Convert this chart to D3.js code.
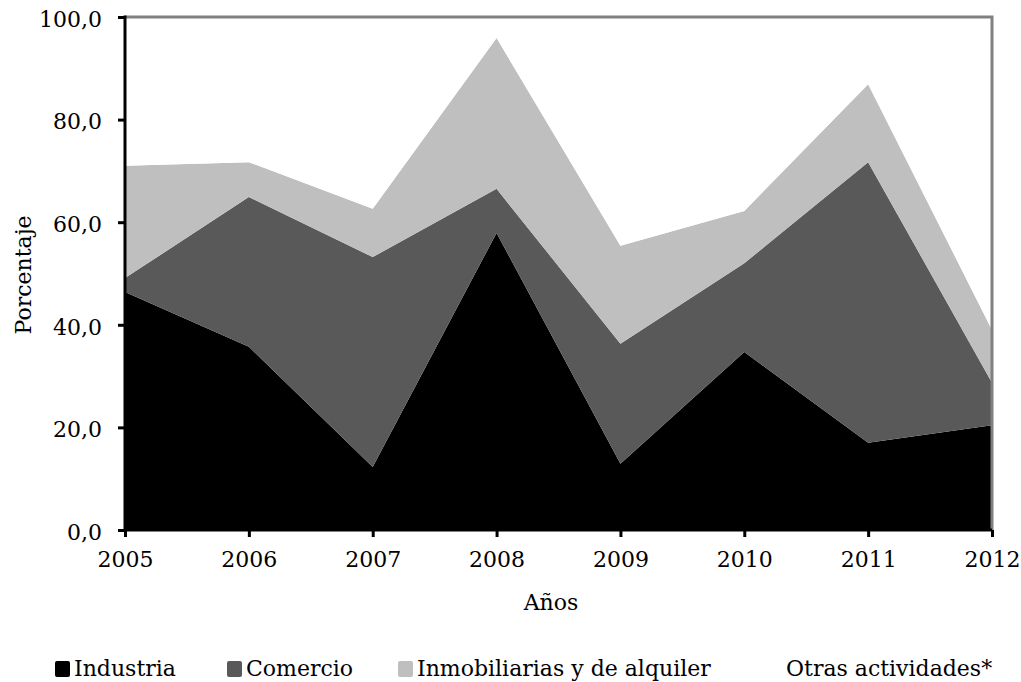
<!DOCTYPE html>
<html><head><meta charset="utf-8">
<script src="https://cdn.jsdelivr.net/npm/d3@7"></script>
<style>body{margin:0;background:#fff}svg{display:block}text{font-family:"DejaVu Serif",serif;fill:#000}</style>
</head><body>
<svg id="c" width="1021" height="682"></svg>
<script>
const years = [2005, 2006, 2007, 2008, 2009, 2010, 2011, 2012];
const industria = [46.4, 35.7, 12.3, 57.9, 12.9, 34.7, 17.0, 20.4];
const comercio = [2.7, 29.2, 40.9, 8.6, 23.4, 17.3, 54.7, 8.3];
const inmobiliarias = [21.9, 6.8, 9.4, 29.4, 19.1, 10.2, 15.2, 10.3];
const otras = [29.0, 28.3, 37.4, 4.1, 44.6, 37.8, 13.1, 61.0];
const seriesNames = ["Industria", "Comercio", "Inmobiliarias y de alquiler", "Otras actividades*"];
const yTicks = [0, 20, 40, 60, 80, 100];
const colors = ["#000000", "#595959", "#bfbfbf", "#ffffff"];

const FS = 22;
const svg = d3.select("#c");
const L = 125, R = 992, T = 17, B = 530;
const x = d3.scaleLinear().domain([2005, 2012]).range([L, R]);
const y = d3.scaleLinear().domain([0, 100]).range([B, T]);

const rows = years.map((yr, i) => ({year: yr, k0: industria[i], k1: comercio[i], k2: inmobiliarias[i], k3: otras[i]}));
const stack = d3.stack().keys(["k0", "k1", "k2", "k3"]);
const layers = stack(rows);
const area = d3.area().x(d => x(d.data.year)).y0(d => y(d[0])).y1(d => y(d[1]));

svg.append("g").selectAll("path").data(layers).join("path")
  .attr("d", area).attr("fill", (d, i) => colors[i]);

// top & right border
svg.append("path").attr("d", `M${L},${T}H${R}V${B}`).attr("fill", "none")
  .attr("stroke", "#808080").attr("stroke-width", 3);

const fmt = v => d3.format(".1f")(v).replace(".", ",");
const yAxis = d3.axisLeft(y).tickValues(yTicks).tickFormat(fmt).tickSize(7).tickPadding(16);
const gy = svg.append("g").attr("transform", `translate(${L},0)`).call(yAxis);
gy.select(".domain").attr("stroke", "#000").attr("stroke-width", 3).attr("d", `M0,${B+1.5}V${T-1.5}`);
gy.selectAll(".tick line").attr("stroke", "#000").attr("stroke-width", 3);
gy.selectAll(".tick text").attr("font-size", FS).attr("font-family", "DejaVu Serif").attr("dy", "0.42em");

const xAxis = d3.axisBottom(x).tickValues(years).tickFormat(d3.format("d")).tickSize(7).tickPadding(14);
const gx = svg.append("g").attr("transform", `translate(0,${B})`).call(xAxis);
gx.select(".domain").attr("stroke", "#000").attr("stroke-width", 3).attr("d", `M${L},0H${R}`);
gx.selectAll(".tick line").attr("stroke", "#000").attr("stroke-width", 3);
gx.selectAll(".tick text").attr("font-size", FS).attr("font-family", "DejaVu Serif");

svg.append("text").attr("x", 551).attr("y", 610).attr("text-anchor", "middle").attr("font-size", FS).text("Años");
svg.append("text").attr("transform", "translate(31,275) rotate(-90)").attr("text-anchor", "middle").attr("font-size", FS).text("Porcentaje");

const legX = [55, 227, 398, 767];
const lg = svg.append("g");
seriesNames.forEach((n, i) => {
  lg.append("rect").attr("x", legX[i]).attr("y", 661).attr("width", 15).attr("height", 16).attr("rx", 2).attr("fill", colors[i]);
  lg.append("text").attr("x", legX[i] + 19).attr("y", 676).attr("font-size", FS).text(n);
});
</script>
</body></html>
